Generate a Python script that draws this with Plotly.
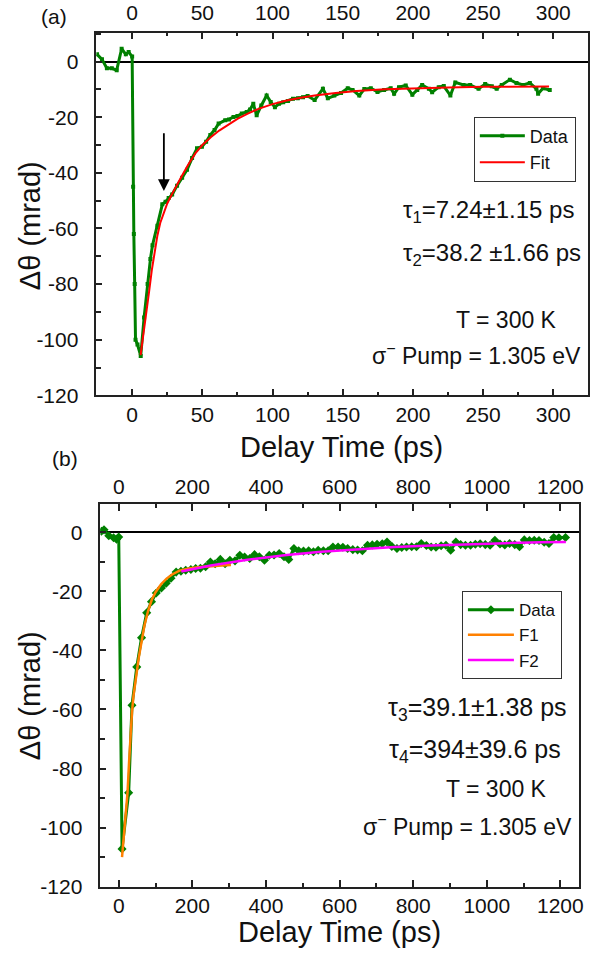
import plotly.graph_objects as go

W, H = 604, 958
FONT = "Liberation Sans, Arial, sans-serif"
AX = "#222222"

# ---------------- panel (a) data ----------------
t_a = [-25, -21.5, -18, -14.5, -11, -7.5, -4.5, -2.5, 0,
       0.7, 1.2, 1.8, 2.4, 3.8, 6.1,
       8.5, 11, 13, 14.5, 18, 21.5, 23.8, 26, 28.5, 32,
       35.6, 39.1, 42.7, 46.2, 49.7, 52.7, 55.7, 58.7, 61.6, 66.3,
       69, 72.2, 75, 78.1, 81.6, 84, 86.3, 88.7, 92, 95.8,
       98.7, 101.7, 104.6, 107.6, 111, 114.6, 118, 121.7, 125, 130,
       135.9, 139.4, 144, 148.8, 153.6, 157, 161.8, 165.4, 170, 174.8,
       179.5, 184.2, 186.6, 190.1, 194.9, 199.6, 203.1, 206.6, 211.4, 213.7,
       218.4, 222, 226.7, 230.2, 236.1, 240.8, 246.8, 251.5, 256.2, 259.7,
       263.3, 269.1, 273.8, 278.5, 283.3, 288, 289.2, 292.7, 297.5]
y_a = [2.6, 0.8, -2.4, -2.4, -3.1, 4.6, 2.6, 3.4, 1.8,
       -45, -62, -80, -100, -101.7, -105.8,
       -92, -80, -71, -66, -59, -51.3, -50.4, -49, -47.8, -44.6,
       -41.8, -38.9, -34.7, -31.2, -30.6, -28.8, -26.4, -24.6, -22.3, -21.1,
       -20.8, -19.9, -19.6, -18.7, -18.1, -17.2, -15.2, -19.3, -15.8, -12.2,
       -14.5, -16.4, -15.2, -14.6, -14.2, -13.4, -13.2, -12.8, -12.4, -13.8,
       -9.8, -13.2, -12.2, -11.3, -9.6, -10.2, -12.2, -9.9, -9.6, -10.9,
       -10.2, -9.6, -11.6, -9.2, -8.6, -11.9, -10.2, -8.4, -9.8, -11,
       -9.2, -8.8, -12.2, -7.5, -8.4, -8.4, -9.8, -8.1, -8.9, -9.8,
       -8.4, -6.5, -7.7, -8.4, -7.7, -9.8, -11.6, -9.6, -10.2]

tfit_a = [6, 8, 10, 12, 14, 16, 18, 20, 22, 25, 28, 31, 35, 40, 45, 50, 56, 62,
          68, 75, 82, 90, 100, 110, 120, 130, 145, 160, 180, 200, 225, 250, 275, 297]
yfit_a = [-105.5, -98.5, -91.5, -83, -75, -68, -62.5, -58, -55, -51, -48, -45,
          -41.5, -37, -33, -30, -27.2, -24.8, -22.8, -20.6, -18.8, -17.0, -15.3,
          -14.0, -13.0, -12.2, -11.3, -10.6, -10.0, -9.6, -9.3, -9.1, -9.0, -9.0]

# ---------------- panel (b) data ----------------
t_b = [-47, -40, -27, -14, -6, 0, 9,
       27, 36, 49, 62, 76, 89, 102, 116, 129, 142,
       156, 169, 182, 196, 209, 222, 236, 249, 262, 276,
       289, 302, 316, 329, 342, 356, 369, 382, 396, 409,
       422, 436, 449, 462, 476, 489, 502, 516, 529, 542,
       556, 569, 582, 596, 609, 622, 636, 649, 662, 676,
       689, 702, 716, 729, 742, 756, 769, 782, 796, 809,
       822, 836, 849, 862, 876, 889, 902, 916, 929, 942,
       956, 969, 982, 996, 1009, 1022, 1036, 1049, 1062, 1076,
       1089, 1102, 1116, 1129, 1142, 1156, 1169, 1182, 1196, 1214]
y_b = [0.3, 0.8, -1.2, -1.9, -2.4, -1.6, -107.2,
       -88.2, -58.6, -45.6, -35.7, -27.3, -23.5, -20.6, -18.9, -17.3, -15.6,
       -13.5, -13.2, -12.9, -12.6, -12.3, -12.2, -11.7, -10.1, -10.7, -9.2,
       -10.7, -9.5, -9.7, -7.8, -8.4, -8.9, -7.6, -8.3, -9.5, -7.8,
       -7.7, -7.2, -8.3, -9.2, -5.5, -6.3, -6.4, -6.3, -6.6, -6.1,
       -6.3, -6.3, -5.0, -5.0, -5.1, -5.5, -5.9, -6.0, -6.3, -4.4,
       -4.3, -4.1, -3.9, -3.3, -4.8, -5.5, -5.2, -5.0, -4.9, -4.9,
       -3.8, -4.5, -5.0, -5.1, -4.6, -4.4, -6.1, -3.3, -4.2, -4.4,
       -4.4, -4.1, -3.9, -4.2, -4.4, -2.7, -4.0, -4.3, -3.8, -4.2,
       -4.9, -2.6, -2.8, -2.7, -2.8, -3.4, -3.8, -1.8, -1.9, -1.8]

tf1 = [9, 14, 19, 24, 28, 32, 36, 40, 45, 50, 55, 60, 70, 80, 90, 100, 115,
       130, 145, 165, 190, 215, 240, 265, 290, 305]
yf1 = [-110, -103, -96, -88, -78, -68, -61, -55.5, -50.5, -46, -42, -38.5,
       -31.5, -26.5, -22.8, -20.3, -17.6, -15.7, -14.3, -13.0, -12.3, -11.9,
       -11.6, -11.4, -11.2, -11.1]

tf2 = [170, 250, 350, 450, 550, 650, 750, 850, 950, 1050, 1150, 1215]
yf2 = [-13.3, -11.3, -9.3, -7.8, -6.6, -5.7, -5.0, -4.5, -4.0, -3.7, -3.4, -3.3]

# tick labels (hyphen-minus as in the original figure)
ytick_vals = [-120, -100, -80, -60, -40, -20, 0]
ytick_text = ["-120", "-100", "-80", "-60", "-40", "-20", "0"]
xtick_a = [0, 50, 100, 150, 200, 250, 300]
xtick_b = [0, 200, 400, 600, 800, 1000, 1200]

GREEN = "#008000"
RED = "#ff0000"
ORANGE = "#ff8000"
MAGENTA = "#ff00ff"

rng_xa = [-25.5, 324.8]
rng_xb = [-50, 1251]
rng_ya = [-120, 10.4]
rng_yb = [-120, 9.5]


def px(x):
    return x / W


def py(y):
    return 1 - y / H


fig = go.Figure()
fig.add_trace(go.Scatter(x=t_a, y=y_a, name="Data", mode="lines+markers",
                         line=dict(color=GREEN, width=3),
                         marker=dict(symbol="square", size=4, color=GREEN),
                         xaxis="x", yaxis="y", legend="legend"))
fig.add_trace(go.Scatter(x=tfit_a, y=yfit_a, name="Fit", mode="lines",
                         line=dict(color=RED, width=2),
                         xaxis="x", yaxis="y", legend="legend"))
fig.add_trace(go.Scatter(x=t_b, y=y_b, name="Data", mode="lines+markers",
                         line=dict(color=GREEN, width=3),
                         marker=dict(symbol="diamond", size=7, color=GREEN),
                         xaxis="x2", yaxis="y2", legend="legend2"))
fig.add_trace(go.Scatter(x=tf1, y=yf1, name="F1", mode="lines",
                         line=dict(color=ORANGE, width=2.5),
                         xaxis="x2", yaxis="y2", legend="legend2"))
fig.add_trace(go.Scatter(x=tf2, y=yf2, name="F2", mode="lines",
                         line=dict(color=MAGENTA, width=2.5),
                         xaxis="x2", yaxis="y2", legend="legend2"))
# invisible carriers so that the top (mirrored) axes get drawn
for xa, ya, rng in (("x3", "y", rng_xa), ("x4", "y2", rng_xb)):
    fig.add_trace(go.Scatter(x=rng, y=[-500, -500], mode="markers",
                             marker=dict(opacity=0), showlegend=False,
                             hoverinfo="skip", xaxis=xa, yaxis=ya))

TICKFONT = dict(family=FONT, size=21, color="#111")


def xax(domain, rng, tv, minor, anchor, standoff, side="bottom", overlay=None):
    d = dict(domain=domain, range=rng, anchor=anchor, side=side,
             showline=True, linecolor=AX, linewidth=1.5,
             ticks="inside", ticklen=7, tickwidth=1.5, tickcolor=AX,
             tickmode="array", tickvals=tv, ticktext=[str(v) for v in tv],
             minor=dict(dtick=minor, tick0=0, ticks="inside", ticklen=4,
                        tickwidth=1.5, tickcolor=AX, showgrid=False),
             showgrid=False, zeroline=False, tickfont=TICKFONT,
             ticklabelstandoff=standoff)
    if overlay:
        d["overlaying"] = overlay
    return d


def yax(domain, rng, anchor):
    return dict(domain=domain, range=rng, anchor=anchor,
                showline=True, linecolor=AX, linewidth=1.5, mirror=True,
                ticks="inside", ticklen=6, tickwidth=1.5, tickcolor=AX,
                tickmode="array", tickvals=ytick_vals, ticktext=ytick_text,
                minor=dict(dtick=10, tick0=0, ticks="inside", ticklen=5,
                           tickwidth=1.5, tickcolor=AX, showgrid=False),
                showgrid=False, zeroline=True, zerolinecolor="#000",
                zerolinewidth=1.5, tickfont=TICKFONT, ticklabelstandoff=12)


dom_xa = [px(97), px(592)]
dom_ya = [py(400), py(33)]
dom_xb = [px(101), px(583)]
dom_yb = [py(897), py(510)]

fig.update_layout(
    width=W, height=H, margin=dict(l=0, r=0, t=0, b=0),
    paper_bgcolor="white", plot_bgcolor="white",
    font=dict(family=FONT, color="#111"),
    xaxis=xax(dom_xa, rng_xa, xtick_a, 25, "y", 0),
    xaxis3=xax(dom_xa, rng_xa, xtick_a, 25, "y", 2, side="top", overlay="x"),
    yaxis=yax(dom_ya, rng_ya, "x"),
    xaxis2=xax(dom_xb, rng_xb, xtick_b, 100, "y2", -1),
    xaxis4=xax(dom_xb, rng_xb, xtick_b, 100, "y2", 0, side="top", overlay="x2"),
    yaxis2=yax(dom_yb, rng_yb, "x2"),
    legend=dict(x=px(477), y=py(118), xanchor="left", yanchor="top",
                bgcolor="white", bordercolor="#333", borderwidth=1,
                font=dict(family=FONT, size=18, color="#111"),
                tracegroupgap=0, itemwidth=45),
    legend2=dict(x=px(465), y=py(598), xanchor="left", yanchor="top",
                 bgcolor="white", bordercolor="#333", borderwidth=1,
                 font=dict(family=FONT, size=17, color="#111"),
                 tracegroupgap=0, itemwidth=46),
)

ANN = dict(family=FONT, size=23, color="#111")
ANN_T1 = dict(family=FONT, size=24, color="#111")
ANN_T2 = dict(family=FONT, size=25, color="#111")
TITLE = dict(family=FONT, size=29, color="#111")
LAB = dict(family=FONT, size=21, color="#111")
anns = [
    dict(text="(a)", x=px(54), y=py(16.5), font=LAB,
         xanchor="center", yanchor="middle"),
    dict(text="(b)", x=px(65.5), y=py(464), font=LAB,
         xanchor="center", yanchor="middle"),
    dict(text="Delay Time (ps)", x=px(343.5), y=py(452), font=TITLE,
         xanchor="center", yanchor="middle"),
    dict(text="Delay Time (ps)", x=px(342), y=py(943), font=TITLE,
         xanchor="center", yanchor="middle"),
    dict(text="Δθ (mrad)", x=px(31), y=py(228), font=TITLE, textangle=-90,
         xanchor="center", yanchor="middle"),
    dict(text="Δθ (mrad)", x=px(31), y=py(703.5), font=TITLE, textangle=-90,
         xanchor="center", yanchor="middle"),
    dict(text="τ<sub>1</sub>=7.24±1.15 ps", x=px(580), y=py(214), font=ANN_T1,
         xanchor="right", yanchor="middle"),
    dict(text="τ<sub>2</sub>=38.2 ±1.66 ps", x=px(587), y=py(257), font=ANN_T1,
         xanchor="right", yanchor="middle"),
    dict(text="T = 300 K", x=px(563), y=py(323.5), font=ANN,
         xanchor="right", yanchor="middle"),
    dict(text="σ<sup>−</sup> Pump = 1.305 eV", x=px(587), y=py(358), font=ANN,
         xanchor="right", yanchor="middle"),
    dict(text="τ<sub>3</sub>=39.1±1.38 ps", x=px(573), y=py(717), font=ANN_T2,
         xanchor="right", yanchor="middle"),
    dict(text="τ<sub>4</sub>=394±39.6 ps", x=px(567), y=py(760), font=ANN_T2,
         xanchor="right", yanchor="middle"),
    dict(text="T = 300 K", x=px(553), y=py(798), font=ANN,
         xanchor="right", yanchor="middle"),
    dict(text="σ<sup>−</sup> Pump = 1.305 eV", x=px(578), y=py(835), font=ANN,
         xanchor="right", yanchor="middle"),
]
for a in anns:
    a.update(xref="paper", yref="paper", showarrow=False)

anns.append(dict(x=22.6, y=-46.5, ax=22.6, ay=-25.2, xref="x", yref="y",
                 axref="x", ayref="y", showarrow=True, arrowhead=2,
                 arrowsize=1.3, arrowwidth=1.8, arrowcolor="#000", text=""))
fig.update_layout(annotations=anns)

# pin the figure to the page origin (no default body margin, no overflow)
POST = ("var gd=document.getElementById('{plot_id}');"
        "gd.style.position='fixed';gd.style.left='0px';gd.style.top='0px';"
        "document.documentElement.style.margin='0';"
        "document.documentElement.style.overflow='hidden';"
        "document.body.style.margin='0';document.body.style.padding='0';"
        "document.body.style.overflow='hidden';")
fig.write_html("out.html", post_script=POST,
               config={"displayModeBar": False})
